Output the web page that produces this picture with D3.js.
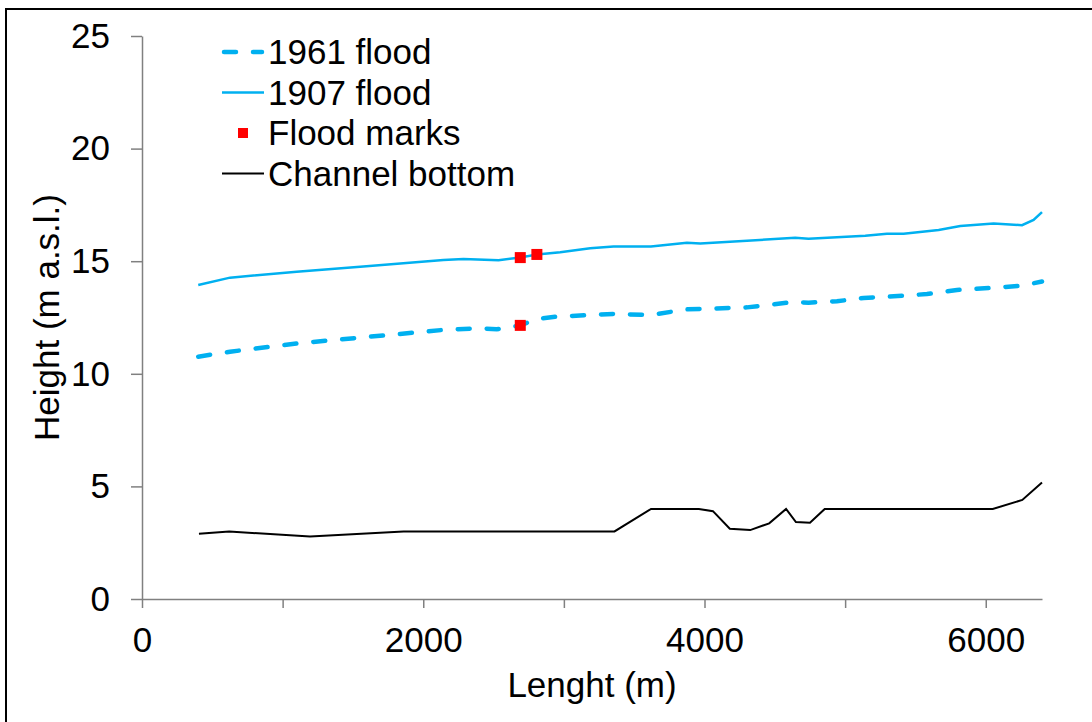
<!DOCTYPE html>
<html>
<head>
<meta charset="utf-8">
<script src="https://cdn.jsdelivr.net/npm/d3@7"></script>
<style>
  body { margin: 0; background: #fff; }
  text { font-family: "Liberation Sans", Arial, sans-serif; fill: #000; }
</style>
</head>
<body>
<div id="chart"></div>
<script>
let width = 1092;
let height = 722;
let margin = { left: 142, right: 50, top: 36, bottom: 123 };
let fontSize = 35;

// 1961 flood water level (dashed)
let flood1961X = [400, 626, 1100, 1574, 2143, 2405, 2523, 2689, 2808, 2950, 3187, 3353, 3614, 3875, 4302, 4633, 4740, 4942, 5131, 5345, 5582, 5795, 6056, 6258, 6400];
let flood1961Y = [10.76, 10.98, 11.35, 11.62, 11.95, 12.02, 11.98, 12.15, 12.43, 12.54, 12.61, 12.66, 12.61, 12.86, 12.95, 13.19, 13.16, 13.22, 13.37, 13.44, 13.54, 13.72, 13.82, 13.91, 14.1];

// 1907 flood water level (solid)
let flood1907X = [400, 626, 1100, 1574, 2143, 2286, 2535, 2689, 2808, 2974, 3187, 3353, 3619, 3875, 3970, 4645, 4740, 5143, 5297, 5416, 5665, 5819, 6056, 6258, 6340, 6400];
let flood1907Y = [13.94, 14.27, 14.53, 14.76, 15.05, 15.1, 15.04, 15.16, 15.3, 15.4, 15.57, 15.65, 15.65, 15.82, 15.79, 16.04, 16.0, 16.13, 16.22, 16.22, 16.39, 16.56, 16.67, 16.6, 16.83, 17.18];

// flood marks
let marksX = [2690, 2808, 2690];
let marksY = [15.16, 15.3, 12.15];

// channel bottom
let bottomX = [405, 620, 1195, 1860, 3360, 3620, 3960, 4060, 4180, 4325, 4460, 4580, 4650, 4750, 4855, 6050, 6260, 6400];
let bottomY = [2.9, 3.0, 2.77, 3.0, 3.0, 4.0, 4.0, 3.9, 3.12, 3.06, 3.36, 4.0, 3.42, 3.39, 4.0, 4.0, 4.4, 5.17];

let xTicks = [0, 1000, 2000, 3000, 4000, 5000, 6000];
let yTicks = [0, 5, 10, 15, 20, 25];

let legendLabels = ["1961 flood", "1907 flood", "Flood marks", "Channel bottom"];

let blue = "#00B0F0";

let svg = d3.select("#chart").append("svg")
    .attr("width", width).attr("height", height);

// outer frame
svg.append("rect").attr("x", 6).attr("y", 9)
    .attr("width", width + 20).attr("height", height + 20)
    .attr("fill", "none").attr("stroke", "#000").attr("stroke-width", 2);

let x = d3.scaleLinear().domain([0, 6400]).range([margin.left, width - margin.right]);
let y = d3.scaleLinear().domain([0, 25]).range([height - margin.bottom, margin.top]);

let xAxis = svg.append("g").attr("transform", `translate(0,${y(0)})`)
    .call(d3.axisBottom(x).tickValues(xTicks).tickSize(9).tickSizeOuter(0).tickPadding(19)
        .tickFormat(d => d % 2000 == 0 ? d : ""));
let yAxis = svg.append("g").attr("transform", `translate(${x(0)},0)`)
    .call(d3.axisLeft(y).tickValues(yTicks).tickSize(11).tickSizeOuter(0).tickPadding(21));

[xAxis, yAxis].forEach(a => {
    a.select(".domain").attr("stroke", "#808080").attr("stroke-width", 1.5);
    a.selectAll(".tick line").attr("stroke", "#808080").attr("stroke-width", 1.5);
    a.selectAll(".tick text").attr("font-size", fontSize).attr("fill", "#000")
        .style("font-family", "'Liberation Sans', Arial, sans-serif");
});

svg.append("text").attr("x", 592).attr("y", 697)
    .attr("text-anchor", "middle").attr("font-size", fontSize).text("Lenght (m)");
svg.append("text").attr("transform", `translate(59,${(y(0) + y(25)) / 2}) rotate(-90)`)
    .attr("text-anchor", "middle").attr("font-size", fontSize).text("Height (m a.s.l.)");

let line = d3.line().x(d => x(d[0])).y(d => y(d[1]));

svg.append("path").datum(d3.zip(bottomX, bottomY))
    .attr("d", line).attr("fill", "none").attr("stroke", "#000").attr("stroke-width", 2);

svg.append("path").datum(d3.zip(flood1907X, flood1907Y))
    .attr("d", line).attr("fill", "none").attr("stroke", blue).attr("stroke-width", 2.5);

svg.append("path").datum(d3.zip(flood1961X, flood1961Y))
    .attr("d", line).attr("fill", "none").attr("stroke", blue).attr("stroke-width", 4.5)
    .attr("stroke-dasharray", "12,17").attr("stroke-linecap", "round");

svg.selectAll(".mark").data(d3.zip(marksX, marksY)).join("rect")
    .attr("class", "mark")
    .attr("x", d => x(d[0]) - 5.5).attr("y", d => y(d[1]) - 5.5)
    .attr("width", 11).attr("height", 11).attr("fill", "#FF0000");

// legend
let legend = svg.append("g").attr("transform", "translate(222,52)");
let rowGap = 40.5;
legend.append("line").attr("x1", 2).attr("x2", 40).attr("y1", 0).attr("y2", 0)
    .attr("stroke", blue).attr("stroke-width", 4.5).attr("stroke-dasharray", "12,17").attr("stroke-linecap", "round");
legend.append("line").attr("x1", 0).attr("x2", 42).attr("y1", rowGap).attr("y2", rowGap)
    .attr("stroke", blue).attr("stroke-width", 2.5);
legend.append("rect").attr("x", 16).attr("y", rowGap * 2 - 5).attr("width", 10).attr("height", 10)
    .attr("fill", "#FF0000");
legend.append("line").attr("x1", 0).attr("x2", 42).attr("y1", rowGap * 3).attr("y2", rowGap * 3)
    .attr("stroke", "#000").attr("stroke-width", 2);
legend.selectAll(".legend-text").data(legendLabels).join("text")
    .attr("class", "legend-text")
    .attr("x", 46).attr("y", (d, i) => i * rowGap + 12)
    .attr("font-size", fontSize).text(d => d);
</script>
</body>
</html>
